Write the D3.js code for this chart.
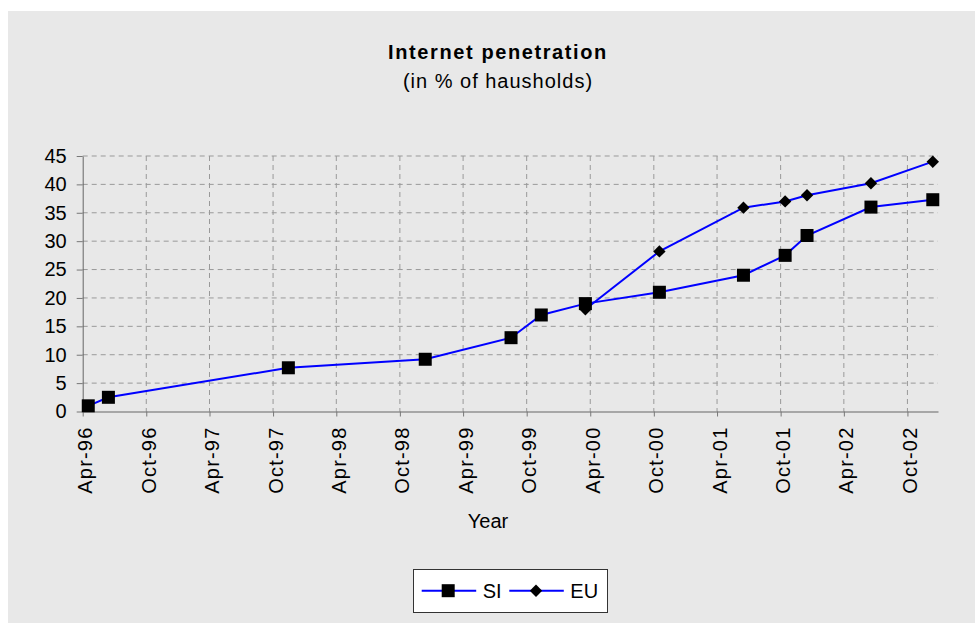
<!DOCTYPE html>
<html>
<head>
<meta charset="utf-8">
<script src="https://cdn.jsdelivr.net/npm/d3@7"></script>
<style>
  body { margin: 0; background: #ffffff; }
  svg text { font-family: Arial, "Liberation Sans", sans-serif; fill: #000; }
</style>
</head>
<body>
<div id="chart"></div>
<script>
// DATA
const siDates  = ["1996-04-17", "1996-06-14", "1997-11-14", "1998-12-13", "1999-08-17", "1999-11-12",
                  "2000-03-18", "2000-10-17", "2001-06-16", "2001-10-14", "2001-12-16", "2002-06-18", "2002-12-13"];
const siValues = [1, 2.5, 7.7, 9.2, 13, 17, 19, 21, 24, 27.5, 31, 36, 37.3];

const euDates  = ["2000-03-18", "2000-10-17", "2001-06-16", "2001-10-14", "2001-12-16", "2002-06-18", "2002-12-13"];
const euValues = [18, 28.2, 35.9, 37, 38.1, 40.2, 44];

const xTickLabels = ["Apr-96", "Oct-96", "Apr-97", "Oct-97", "Apr-98", "Oct-98", "Apr-99",
                     "Oct-99", "Apr-00", "Oct-00", "Apr-01", "Oct-01", "Apr-02", "Oct-02"];
const yTicks = [0, 5, 10, 15, 20, 25, 30, 35, 40, 45];

const seriesNames = ["SI", "EU"];

const width = 975, height = 623;
const parseDay = d3.timeParse("%Y-%m-%d");
const parseTick = d3.timeParse("%b-%y");

const si = siDates.map((d, i) => ({date: parseDay(d), value: siValues[i]}));
const eu = euDates.map((d, i) => ({date: parseDay(d), value: euValues[i]}));
const tickDates = xTickLabels.map(parseTick);

const svg = d3.select("#chart")
  .append("svg")
    .attr("width", width)
    .attr("height", height);

// background panel
svg.append("rect")
  .attr("x", 8).attr("y", 11)
  .attr("width", width - 8).attr("height", height - 11)
  .attr("fill", "#e8e8e8");

// SCALES
const xScale = d3.scaleTime()
  .domain([parseDay("1996-04-01"), parseDay("2002-12-28")])
  .range([82.7, 938]);

const yScale = d3.scaleLinear()
  .domain([0, 45])
  .range([411.5, 156]);

// GRID
svg.append("g")
  .selectAll("line")
  .data(yTicks.filter(d => d > 0))
  .join("line")
    .attr("x1", xScale.range()[0])
    .attr("x2", xScale.range()[1])
    .attr("y1", d => yScale(d))
    .attr("y2", d => yScale(d))
    .attr("stroke", "#999")
    .attr("stroke-dasharray", "5,4");

svg.append("g")
  .selectAll("line")
  .data(tickDates.slice(1))
  .join("line")
    .attr("x1", d => xScale(d))
    .attr("x2", d => xScale(d))
    .attr("y1", yScale(45))
    .attr("y2", yScale(0))
    .attr("stroke", "#999")
    .attr("stroke-dasharray", "5,4");

// AXES
const xAxis = d3.axisBottom(xScale)
  .tickValues(tickDates)
  .tickFormat((d, i) => xTickLabels[i])
  .tickSize(5)
  .tickSizeOuter(0);

const xAxisGroup = svg.append("g")
  .attr("transform", `translate(0, ${yScale(0)})`)
  .call(xAxis);
xAxisGroup.select(".domain").attr("stroke", "#666");
xAxisGroup.selectAll(".tick line").attr("stroke", "#777");
xAxisGroup.selectAll(".tick text")
  .attr("transform", "rotate(-90)")
  .attr("x", -15)
  .attr("y", 0)
  .attr("dy", "0.45em")
  .style("text-anchor", "end")
  .style("font-size", "20px")
  .style("letter-spacing", "1.2px");

const yAxis = d3.axisLeft(yScale)
  .tickValues(yTicks)
  .tickSize(6)
  .tickPadding(10)
  .tickSizeOuter(0);

const yAxisGroup = svg.append("g")
  .attr("transform", `translate(${xScale.range()[0]}, 0)`)
  .call(yAxis);
yAxisGroup.select(".domain").attr("stroke", "#666");
yAxisGroup.selectAll(".tick line").attr("stroke", "#777");
yAxisGroup.selectAll(".tick text")
  .style("font-size", "20px");

// LINES
const line = d3.line()
  .x(d => xScale(d.date))
  .y(d => yScale(d.value));

const diamond = d3.symbol().type(d3.symbolDiamond2).size(98);

svg.append("path")
  .datum(eu)
  .attr("d", line)
  .attr("fill", "none")
  .attr("stroke", "#0000ff")
  .attr("stroke-width", 2);

svg.append("g")
  .selectAll("path")
  .data(eu)
  .join("path")
    .attr("d", diamond)
    .attr("transform", d => `translate(${xScale(d.date)}, ${yScale(d.value)})`)
    .attr("fill", "#000");

svg.append("path")
  .datum(si)
  .attr("d", line)
  .attr("fill", "none")
  .attr("stroke", "#0000ff")
  .attr("stroke-width", 2);

svg.append("g")
  .selectAll("rect")
  .data(si)
  .join("rect")
    .attr("x", d => xScale(d.date) - 6.5)
    .attr("y", d => yScale(d.value) - 6.5)
    .attr("width", 13)
    .attr("height", 13)
    .attr("fill", "#000");

// TITLES
svg.append("text")
  .attr("x", 498).attr("y", 59)
  .attr("text-anchor", "middle")
  .style("font-size", "20px")
  .style("font-weight", "bold")
  .style("letter-spacing", "1.6px")
  .text("Internet penetration");

svg.append("text")
  .attr("x", 498).attr("y", 88)
  .attr("text-anchor", "middle")
  .style("font-size", "20px")
  .style("letter-spacing", "1px")
  .text("(in % of hausholds)");

svg.append("text")
  .attr("x", 488).attr("y", 528)
  .attr("text-anchor", "middle")
  .style("font-size", "20px")
  .text("Year");

// LEGEND
const legend = svg.append("g");
legend.append("rect")
  .attr("x", 413.5).attr("y", 569.5)
  .attr("width", 194).attr("height", 43)
  .attr("fill", "#fff")
  .attr("stroke", "#333");

const legendX = [421.7, 509.3];
const legendItems = legend.selectAll("g.item")
  .data(seriesNames)
  .join("g")
    .attr("class", "item")
    .attr("transform", (d, i) => `translate(${legendX[i]}, 590.7)`);

legendItems.append("line")
  .attr("x1", 0).attr("x2", 54.5)
  .attr("stroke", "#0000ff")
  .attr("stroke-width", 2);

legendItems.filter(d => d === "SI").append("rect")
  .attr("x", 20).attr("y", -6.5)
  .attr("width", 13).attr("height", 13)
  .attr("fill", "#000");

legendItems.filter(d => d === "EU").append("path")
  .attr("d", diamond)
  .attr("transform", "translate(26.7, 0)")
  .attr("fill", "#000");

legendItems.append("text")
  .attr("x", 61)
  .attr("dy", "0.36em")
  .style("font-size", "20px")
  .text(d => d);
</script>
</body>
</html>
